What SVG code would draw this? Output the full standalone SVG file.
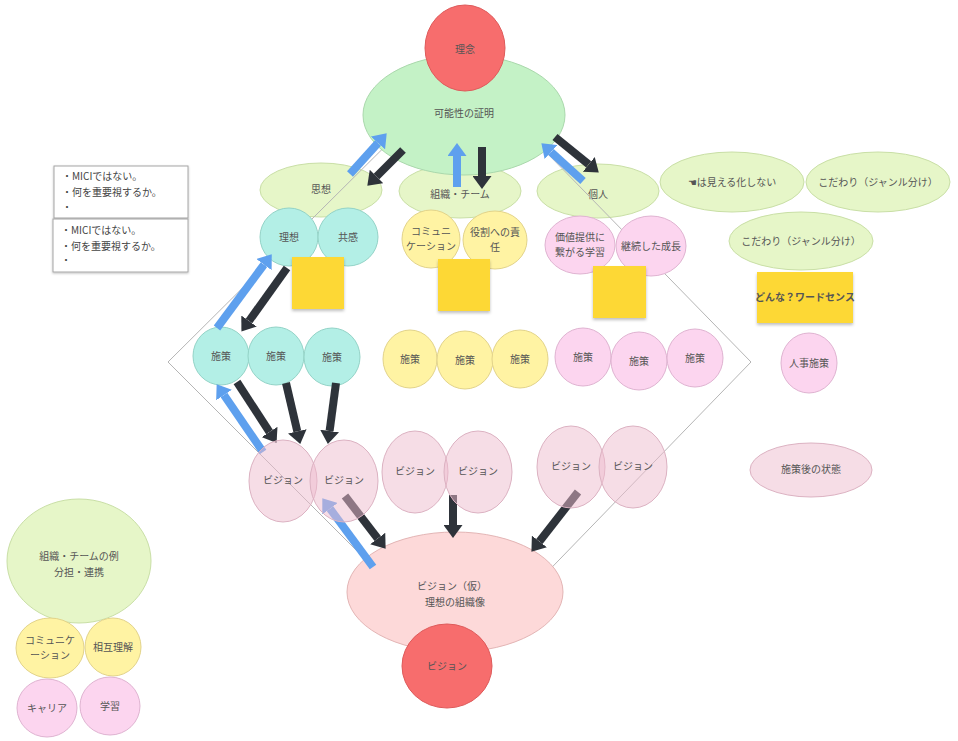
<svg xmlns="http://www.w3.org/2000/svg" width="958" height="741" viewBox="0 0 958 741">
<style>
text{font-family:"Noto Sans CJK JP","Noto Sans",sans-serif;font-size:10px;fill:#555;text-anchor:middle;dominant-baseline:middle}
.lg{fill:#e6f6c8;stroke:#c9dfa6;stroke-width:1}
.gr{fill:#c4f2c6;stroke:#aad8ac;stroke-width:1}
.red{fill:#f76d6d;stroke:#de5a5a;stroke-width:1}
.tl{fill:#b3efe6;stroke:#93d3c7;stroke-width:1}
.yl{fill:#fff3a3;stroke:#e2d38a;stroke-width:1}
.pk{fill:#fcd5ef;stroke:#dfb3d1;stroke-width:1}
.vs{fill:#edbbcd;fill-opacity:0.5;stroke:#dcb2c2;stroke-width:1}
.pp{fill:#fdd9d9;stroke:#e3b5b5;stroke-width:1}
.st{fill:#fdd835;filter:url(#sh)}
.box{fill:#fff;stroke:#a6a6a6;stroke-width:1;filter:url(#sh2)}
.bl{stroke:#5ea0ee;stroke-width:8;fill:none;marker-end:url(#hb)}
.dk{stroke:#2e333a;stroke-width:8;fill:none;marker-end:url(#hd)}
.lt{text-anchor:start;font-size:10px;fill:#444}
</style>
<defs>
<filter id="sh" x="-20%" y="-20%" width="140%" height="150%"><feDropShadow dx="0" dy="2" stdDeviation="1.5" flood-color="#000" flood-opacity="0.25"/></filter>
<filter id="sh2" x="-10%" y="-20%" width="120%" height="150%"><feDropShadow dx="0" dy="1" stdDeviation="1" flood-color="#000" flood-opacity="0.25"/></filter>
<marker id="hb" markerUnits="userSpaceOnUse" markerWidth="13" markerHeight="19" viewBox="0 0 13 19" refX="0" refY="9.5" orient="auto"><path d="M0,0 L13,9.5 L0,19 Z" fill="#5ea0ee"/></marker>
<marker id="hd" markerUnits="userSpaceOnUse" markerWidth="13" markerHeight="19" viewBox="0 0 13 19" refX="0" refY="9.5" orient="auto"><path d="M0,0 L13,9.5 L0,19 Z" fill="#2e333a"/></marker>
</defs>
<rect width="958" height="741" fill="#fff"/>

<g id="shisou"><ellipse class="lg" cx="321" cy="190" rx="61" ry="27"/><text x="321" y="190">思想</text></g>
<g id="soshiki"><ellipse class="lg" cx="460" cy="191" rx="61" ry="27"/><text x="460" y="195">組織・チーム</text></g>
<g id="kojin"><ellipse class="lg" cx="598" cy="191" rx="61" ry="27"/><text x="598" y="195">個人</text></g>

<g id="diamond"><polygon points="464,68 751,362 464,658 168,362" fill="none" stroke="#b5b5b5" stroke-width="1"/></g>

<g id="kanousei"><ellipse class="gr" cx="464" cy="115" rx="101" ry="60"/><text x="464" y="114" font-size="11">可能性の証明</text></g>
<g id="rinen"><ellipse class="red" cx="465" cy="48" rx="40" ry="43"/><text x="465" y="50" fill="#4a3a3a">理念</text></g>

<g id="mieruka"><ellipse class="lg" cx="732" cy="182" rx="72" ry="30"/><text x="732" y="183" fill="#444">☚は見える化しない</text></g>
<g id="kodawari1"><ellipse class="lg" cx="878" cy="182" rx="72" ry="30"/><text x="878" y="183" fill="#444">こだわり（ジャンル分け）</text></g>
<g id="kodawari2"><ellipse class="lg" cx="801" cy="241" rx="72" ry="29"/><text x="801" y="242" fill="#444">こだわり（ジャンル分け）</text></g>
<g id="wordsense"><rect class="st" x="757" y="272" width="96" height="51"/><text x="805" y="298" font-size="9" font-weight="bold" fill="#444">どんな？ワードセンス</text></g>
<g id="jinji"><ellipse class="pk" cx="809" cy="363" rx="28" ry="30"/><text x="809" y="364">人事施策</text></g>
<g id="shisakugo"><ellipse class="vs" cx="811" cy="470" rx="61" ry="27" fill-opacity="0.6"/><text x="811" y="470">施策後の状態</text></g>

<g id="note1"><rect class="box" x="54" y="166" width="134" height="52"/><text class="lt" x="62" y="177">・MICIではない。</text><text class="lt" x="62" y="193">・何を重要視するか。</text><text class="lt" x="62" y="208">・</text></g>
<g id="note2"><rect class="box" x="53" y="219" width="135" height="53"/><text class="lt" x="61" y="231">・MICIではない。</text><text class="lt" x="61" y="247">・何を重要視するか。</text><text class="lt" x="61" y="261">・</text></g>

<g id="risou"><ellipse class="tl" cx="289" cy="237" rx="29" ry="29"/><text x="289" y="238">理想</text></g>
<g id="kyoukan"><ellipse class="tl" cx="348" cy="237" rx="30" ry="29"/><text x="348" y="238">共感</text></g>
<g id="sticky1"><rect class="st" x="292" y="257" width="52" height="52"/></g>

<g id="comm"><ellipse class="yl" cx="431" cy="239" rx="29" ry="29"/><text x="431" y="232">コミュニ</text><text x="431" y="247">ケーション</text></g>
<g id="yakuwari"><ellipse class="yl" cx="495" cy="240" rx="32" ry="29"/><text x="495" y="233">役割への責</text><text x="495" y="248">任</text></g>
<g id="sticky2"><rect class="st" x="438" y="259" width="52" height="52"/></g>

<g id="kachi"><ellipse class="pk" cx="580" cy="245" rx="35" ry="29"/><text x="580" y="238">価値提供に</text><text x="580" y="253">繋がる学習</text></g>
<g id="keizoku"><ellipse class="pk" cx="651" cy="246" rx="35" ry="30"/><text x="651" y="247">継続した成長</text></g>
<g id="sticky3"><rect class="st" x="593" y="266" width="53" height="52"/></g>

<g id="s1"><ellipse class="tl" cx="221" cy="356" rx="28" ry="29"/><text x="221" y="357">施策</text></g>
<g id="s2"><ellipse class="tl" cx="276" cy="356" rx="28" ry="29"/><text x="276" y="357">施策</text></g>
<g id="s3"><ellipse class="tl" cx="332" cy="357" rx="28" ry="29"/><text x="332" y="358">施策</text></g>
<g id="s4"><ellipse class="yl" cx="410" cy="359" rx="27" ry="29"/><text x="410" y="360">施策</text></g>
<g id="s5"><ellipse class="yl" cx="465" cy="360" rx="28" ry="29"/><text x="465" y="361">施策</text></g>
<g id="s6"><ellipse class="yl" cx="520" cy="359" rx="28" ry="29"/><text x="520" y="360">施策</text></g>
<g id="s7"><ellipse class="pk" cx="583" cy="357" rx="28" ry="29"/><text x="583" y="358">施策</text></g>
<g id="s8"><ellipse class="pk" cx="639" cy="361" rx="28" ry="29"/><text x="639" y="362">施策</text></g>
<g id="s9"><ellipse class="pk" cx="695" cy="358" rx="28" ry="29"/><text x="695" y="359">施策</text></g>

<g id="visionkari"><ellipse class="pp" cx="455" cy="592" rx="108" ry="60"/><text x="452" y="587" font-size="11">ビジョン（仮）</text><text x="455" y="603" font-size="11">理想の組織像</text></g>
<g id="vision"><ellipse class="red" cx="447" cy="666" rx="45" ry="42"/><text x="447" y="667" fill="#4a3a3a">ビジョン</text></g>

<g id="connectors">
<line class="bl" x1="350" y1="174" x2="378" y2="143"/>
<line class="dk" x1="403" y1="150" x2="376.5" y2="176.5"/>
<line class="bl" x1="457" y1="187" x2="457" y2="156"/>
<line class="dk" x1="482" y1="147" x2="482" y2="176"/>
<line class="bl" x1="583" y1="181" x2="551" y2="152"/>
<line class="dk" x1="555" y1="137" x2="588.7" y2="164.4"/>
<line class="bl" x1="217" y1="328" x2="264" y2="264.6"/>
<line class="dk" x1="287" y1="268" x2="249" y2="321"/>
<line class="bl" x1="263" y1="452" x2="224" y2="395"/>
<line class="dk" x1="237" y1="382" x2="269.5" y2="432"/>
<line class="dk" x1="286" y1="383" x2="297.3" y2="431.3"/>
<line class="dk" x1="336" y1="383" x2="329.6" y2="431"/>
<line class="bl" x1="373" y1="567" x2="330" y2="508.7"/>
<line class="dk" x1="345" y1="496" x2="377.7" y2="538.5"/>
<line class="dk" x1="453" y1="495" x2="453" y2="525"/>
<line class="dk" x1="578" y1="492" x2="539.4" y2="541.5"/>
</g>

<g id="v1"><ellipse class="vs" cx="283" cy="481" rx="34" ry="41"/><text x="283" y="481" font-size="11" fill="#666">ビジョン</text></g>
<g id="v2"><ellipse class="vs" cx="344" cy="481" rx="34" ry="41"/><text x="344" y="481" font-size="11" fill="#666">ビジョン</text></g>
<g id="v3"><ellipse class="vs" cx="415" cy="472" rx="33" ry="41"/><text x="415" y="472" font-size="11" fill="#666">ビジョン</text></g>
<g id="v4"><ellipse class="vs" cx="478" cy="472" rx="34" ry="41"/><text x="478" y="472" font-size="11" fill="#666">ビジョン</text></g>
<g id="v5"><ellipse class="vs" cx="571" cy="467" rx="34" ry="41"/><text x="571" y="467" font-size="11" fill="#666">ビジョン</text></g>
<g id="v6"><ellipse class="vs" cx="633" cy="467" rx="34" ry="41"/><text x="633" y="467" font-size="11" fill="#666">ビジョン</text></g>

<g id="example"><ellipse class="lg" cx="79" cy="561" rx="72" ry="62"/><text x="79" y="557">組織・チームの例</text><text x="79" y="573">分担・連携</text></g>
<g id="ex-comm"><ellipse class="yl" cx="50" cy="648" rx="34" ry="30"/><text x="50" y="641">コミュニケ</text><text x="50" y="656">ーション</text></g>
<g id="ex-sogo"><ellipse class="yl" cx="113" cy="647" rx="28" ry="29"/><text x="113" y="648">相互理解</text></g>
<g id="ex-career"><ellipse class="pk" cx="47" cy="708" rx="30" ry="29"/><text x="47" y="709">キャリア</text></g>
<g id="ex-gakushu"><ellipse class="pk" cx="110" cy="706" rx="30" ry="29"/><text x="110" y="707">学習</text></g>
</svg>
